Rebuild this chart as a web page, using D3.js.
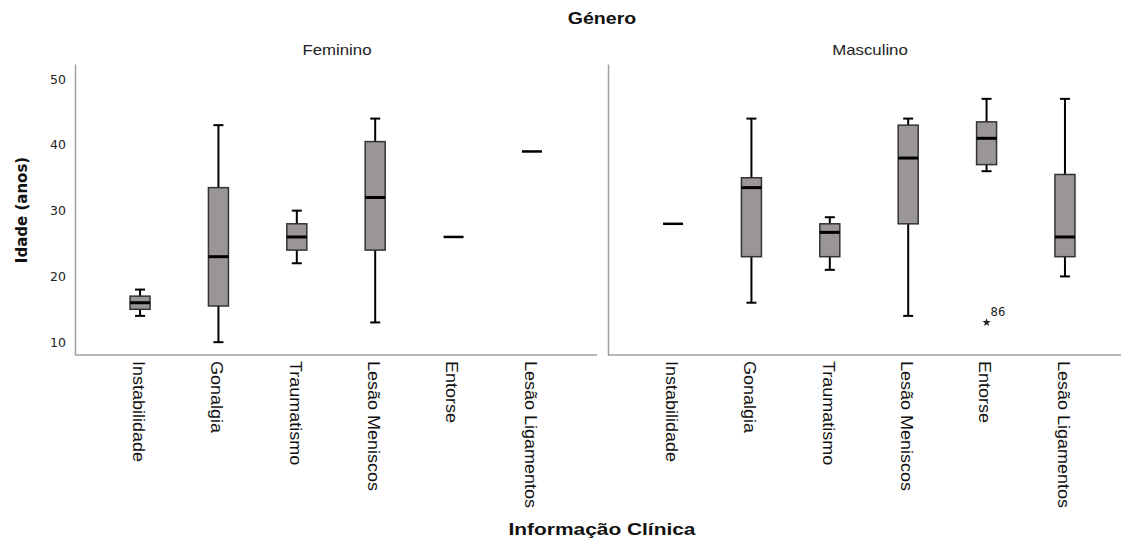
<!DOCTYPE html>
<html>
<head>
<meta charset="utf-8">
<script src="https://cdn.jsdelivr.net/npm/d3@7"></script>
<style>
  body { margin: 0; background: #fff; }
</style>
</head>
<body>
<div></div>
<script>
//set the width and height of the svg
var width = 1121;
var height = 542;

//categories on the x axis and the two panels
var categories = ["Instabilidade", "Gonalgia", "Traumatismo", "Lesão Meniscos",
                  "Entorse", "Lesão Ligamentos"];
var genders = ["Feminino", "Masculino"];

//box values, Feminino
var femMin    = [14, 10,   22, 13,   26, 39];
var femQ1     = [15, 15.5, 24, 24,   26, 39];
var femMedian = [16, 23,   26, 32,   26, 39];
var femQ3     = [17, 33.5, 28, 40.5, 26, 39];
var femMax    = [18, 43,   30, 44,   26, 39];

//box values, Masculino
var mascMin    = [28, 16,   21,   14, 36,   20];
var mascQ1     = [28, 23,   23,   28, 37,   23];
var mascMedian = [28, 33.5, 26.7, 38, 41,   26];
var mascQ3     = [28, 35,   28,   43, 43.5, 35.5];
var mascMax    = [28, 44,   29,   44, 47,   47];

//extreme outliers (gender, category, value, case label)
var outliers = [{gender: "Masculino", category: "Entorse", value: 13, label: "86"}];

//y axis ticks and range of the value axis
var yTicks = [10, 20, 30, 40, 50];
var yDomain = [8.05, 52.3];

//panel layout
var panelLeft = [75, 608];
var panelWidth = 522;
var plotTop = 64;
var plotBottom = 355;

//box style
var boxWidth = 20;
var capWidth = 10;
var boxFill = "#9b9696";
var axisColor = "#a0a0a0";

//Arial looking texts in the picture are a bit stretched
var stretch = 1.2;

var svg = d3
          .select("div")
          .append("svg")
          .attr("width", width)
          .attr("height", height);

//create the y scale, shared by both panels
var yScale = d3
             .scaleLinear()
             .domain(yDomain)
             .range([plotBottom, plotTop]);

//organize the data per panel
var panelData = [
  {gender: genders[0], min: femMin, q1: femQ1, median: femMedian, q3: femQ3, max: femMax},
  {gender: genders[1], min: mascMin, q1: mascQ1, median: mascMedian, q3: mascQ3, max: mascMax}
];

panelData.forEach(function(p, pi) {
  //x scale for this panel
  var xScale = d3
               .scalePoint()
               .domain(categories)
               .range([panelLeft[pi], panelLeft[pi] + panelWidth])
               .padding(0.83);

  var g = svg.append("g");

  //y axis: only the line and the labels on the first panel
  var yAxis = d3.axisLeft(yScale)
                .tickValues(yTicks)
                .tickSize(0)
                .tickPadding(9)
                .tickSizeOuter(0);
  var yAxisG = g.append("g")
                .attr("transform", "translate(" + panelLeft[pi] + ", 0)")
                .call(yAxis);
  yAxisG.select(".domain")
        .attr("stroke", axisColor)
        .attr("stroke-width", 1.5);
  yAxisG.selectAll("text")
        .style("font-family", "DejaVu Sans")
        .style("font-size", "12.5px")
        .attr("fill", "#222");
  if (pi > 0) {
    yAxisG.selectAll(".tick").remove();
  }

  //x axis with rotated category labels
  var xAxis = d3.axisBottom(xScale)
                .tickSize(0)
                .tickSizeOuter(0)
                .tickFormat(function(d) {return d;});
  var xAxisG = g.append("g")
                .attr("transform", "translate(0, " + plotBottom + ")")
                .call(xAxis);
  xAxisG.select(".domain")
        .attr("stroke", axisColor)
        .attr("stroke-width", 1.5)
        .attr("d", "M" + panelLeft[pi] + ",0H" + (panelLeft[pi] + panelWidth));
  xAxisG.selectAll("text")
        .attr("y", 0)
        .attr("dy", "0.33em")
        .attr("transform", "translate(-2, 6) rotate(90) scale(1.06,1)")
        .style("text-anchor", "start")
        .style("font-family", "Liberation Sans")
        .style("font-size", "17px")
        .attr("fill", "#111");

  //panel title
  g.append("text")
   .text(p.gender)
   .attr("transform", "translate(" + (panelLeft[pi] + panelWidth / 2 + 1) + ", 55) scale(" + stretch + ",1)")
   .style("text-anchor", "middle")
   .style("font-family", "Liberation Sans")
   .style("font-size", "14px")
   .attr("fill", "#222");

  //one g per box
  var boxes = g.selectAll("nonexistant")
               .data(categories.map(function(c, i) {
                 return {category: c, min: p.min[i], q1: p.q1[i], median: p.median[i],
                         q3: p.q3[i], max: p.max[i]};
               }))
               .enter()
               .append("g")
               .attr("transform", function(d) {return "translate(" + xScale(d.category) + ", 0)";});

  //boxes with a spread: whiskers, caps and box
  var spread = boxes.filter(function(d) {return d.max > d.min;});

  spread.append("line")
        .attr("x1", 0).attr("x2", 0)
        .attr("y1", function(d) {return yScale(d.max);})
        .attr("y2", function(d) {return yScale(d.min);})
        .attr("stroke", "#000")
        .attr("stroke-width", 2);

  spread.selectAll("nonexistant")
        .data(function(d) {return [d.min, d.max];})
        .enter()
        .append("line")
        .attr("x1", -capWidth / 2).attr("x2", capWidth / 2)
        .attr("y1", function(v) {return yScale(v);})
        .attr("y2", function(v) {return yScale(v);})
        .attr("stroke", "#000")
        .attr("stroke-width", 2);

  spread.append("rect")
        .attr("x", -boxWidth / 2)
        .attr("width", boxWidth)
        .attr("y", function(d) {return yScale(d.q3);})
        .attr("height", function(d) {return yScale(d.q1) - yScale(d.q3);})
        .attr("fill", boxFill)
        .attr("stroke", "#333")
        .attr("stroke-width", 1.5);

  //median line (also the only mark for single value groups)
  boxes.append("line")
       .attr("x1", -boxWidth / 2).attr("x2", boxWidth / 2)
       .attr("y1", function(d) {return yScale(d.median);})
       .attr("y2", function(d) {return yScale(d.median);})
       .attr("stroke", "#000")
       .attr("stroke-width", function(d) {return d.max > d.min ? 3 : 2.5;});

  //extreme values
  var outs = g.selectAll("nonexistant")
              .data(outliers.filter(function(o) {return o.gender === p.gender;}))
              .enter()
              .append("g")
              .attr("transform", function(o) {
                return "translate(" + xScale(o.category) + ", " + yScale(o.value) + ")";
              });
  outs.append("path")
      .attr("d", d3.symbol().type(d3.symbolStar).size(22))
      .attr("fill", "#222");
  outs.append("text")
      .text(function(o) {return o.label;})
      .attr("x", 4)
      .attr("y", -6)
      .style("font-family", "DejaVu Sans")
      .style("font-size", "11.5px")
      .attr("fill", "#222");
});

//chart title
svg.append("text")
   .text("Género")
   .attr("transform", "translate(602, 24) scale(1.15,1)")
   .style("text-anchor", "middle")
   .style("font-family", "Liberation Sans")
   .style("font-weight", "bold")
   .style("font-size", "17px")
   .attr("fill", "#111");

//x axis title
svg.append("text")
   .text("Informação Clínica")
   .attr("transform", "translate(602, 535) scale(1.23,1)")
   .style("text-anchor", "middle")
   .style("font-family", "Liberation Sans")
   .style("font-weight", "bold")
   .style("font-size", "17px")
   .attr("fill", "#111");

//y axis title
svg.append("text")
   .text("Idade (anos)")
   .attr("transform", "translate(27, 210) rotate(-90)")
   .style("text-anchor", "middle")
   .style("font-family", "DejaVu Sans")
   .style("font-weight", "bold")
   .style("font-size", "15px")
   .attr("fill", "#111");
</script>
</body>
</html>
